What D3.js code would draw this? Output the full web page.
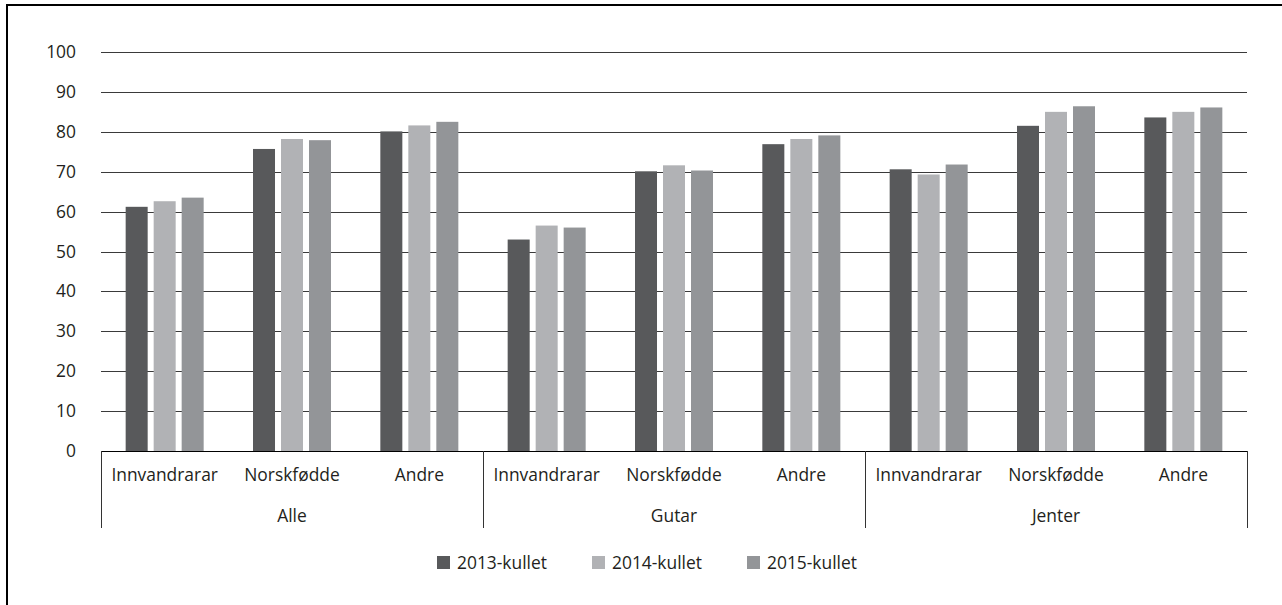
<!DOCTYPE html>
<html>
<head>
<meta charset="utf-8">
<title>Kullet</title>
<script src="https://cdn.jsdelivr.net/npm/d3@7"></script>
<style>
  body { margin: 0; background: #fff; }
  text { font-family: "Open Sans", sans-serif; fill: #231f20; }
</style>
</head>
<body>
<script>
// data
var groups = ["Alle", "Gutar", "Jenter"];
var subcats = ["Innvandrarar", "Norskfødde", "Andre"];
var seriesNames = ["2013-kullet", "2014-kullet", "2015-kullet"];
var s2013 = [61.2, 75.7, 80.1, 53.0, 70.1, 76.9, 70.6, 81.5, 83.6];
var s2014 = [62.6, 78.2, 81.6, 56.5, 71.6, 78.2, 69.3, 85.0, 85.0];
var s2015 = [63.5, 77.9, 82.5, 56.0, 70.3, 79.1, 71.8, 86.4, 86.1];
var yTicks = [0, 10, 20, 30, 40, 50, 60, 70, 80, 90, 100];
var colors = ["#58595b", "#b1b2b5", "#939598"];

var W = 1282, H = 605;
var plotLeft = 101, plotRight = 1247, plotTop = 52, plotBottom = 451;
var fs = 17.4;

var svg = d3.select("body").append("svg")
    .attr("width", W).attr("height", H);

// outer frame (runs past the right and bottom edge)
svg.append("rect")
    .attr("x", 7).attr("y", 5)
    .attr("width", W + 20).attr("height", H + 20)
    .attr("fill", "none").attr("stroke", "#000").attr("stroke-width", 2);

var cats = [];
groups.forEach(function(g) {
    subcats.forEach(function(s) { cats.push(g + "|" + s); });
});

var x = d3.scaleBand().domain(cats).range([plotLeft, plotRight]);
var xs = d3.scaleBand().domain(d3.range(3))
    .range([0, x.bandwidth()]).paddingInner(0.214).paddingOuter(0.881);
var y = d3.scaleLinear().domain([0, 100]).range([plotBottom, plotTop]);

// gridlines
svg.append("g").selectAll("line")
    .data(yTicks.filter(function(d) { return d > 0; }))
    .enter().append("line")
    .attr("x1", plotLeft).attr("x2", plotRight)
    .attr("y1", function(d) { return Math.round(y(d)) + 0.5; })
    .attr("y2", function(d) { return Math.round(y(d)) + 0.5; })
    .attr("stroke", "#3a3a3a").attr("stroke-width", 1);

// y labels
svg.append("g").selectAll("text")
    .data(yTicks).enter().append("text")
    .attr("x", 76)
    .attr("y", function(d) { return y(d) + 6; })
    .attr("text-anchor", "end")
    .attr("font-size", fs)
    .text(function(d) { return d; });

// bars
var series = [s2013, s2014, s2015];
series.forEach(function(vals, si) {
    svg.append("g").selectAll("rect")
        .data(vals).enter().append("rect")
        .attr("x", function(d, i) { return x(cats[i]) + xs(si); })
        .attr("width", xs.bandwidth())
        .attr("y", function(d) { return y(d); })
        .attr("height", function(d) { return y(0) - y(d); })
        .attr("fill", colors[si]);
});

// x axis line
svg.append("line")
    .attr("x1", plotLeft).attr("x2", plotRight)
    .attr("y1", plotBottom + 0.5).attr("y2", plotBottom + 0.5)
    .attr("stroke", "#000").attr("stroke-width", 1);

// group separators
var gx = d3.scaleBand().domain(groups).range([plotLeft, plotRight]);
var seps = groups.map(function(g) { return gx(g); }).concat([plotRight]);
svg.append("g").selectAll("line")
    .data(seps).enter().append("line")
    .attr("x1", function(d) { return Math.round(d) + 0.5; })
    .attr("x2", function(d) { return Math.round(d) + 0.5; })
    .attr("y1", plotBottom).attr("y2", 528)
    .attr("stroke", "#333").attr("stroke-width", 1);

// sub category labels
svg.append("g").selectAll("text")
    .data(cats).enter().append("text")
    .attr("x", function(d) { return x(d) + x.bandwidth() / 2; })
    .attr("y", 481)
    .attr("text-anchor", "middle")
    .attr("font-size", fs)
    .text(function(d) { return d.split("|")[1]; });

// group labels
svg.append("g").selectAll("text")
    .data(groups).enter().append("text")
    .attr("x", function(d) { return gx(d) + gx.bandwidth() / 2; })
    .attr("y", 522)
    .attr("text-anchor", "middle")
    .attr("font-size", fs)
    .text(function(d) { return d; });

// legend
var leg = svg.append("g").selectAll("g")
    .data(seriesNames).enter().append("g")
    .attr("transform", function(d, i) { return "translate(" + (437 + i * 155) + ",556)"; });
leg.append("rect")
    .attr("width", 13).attr("height", 13)
    .attr("fill", function(d, i) { return colors[i]; });
leg.append("text")
    .attr("x", 20).attr("y", 12.5)
    .attr("font-size", fs)
    .text(function(d) { return d; });
</script>
</body>
</html>
